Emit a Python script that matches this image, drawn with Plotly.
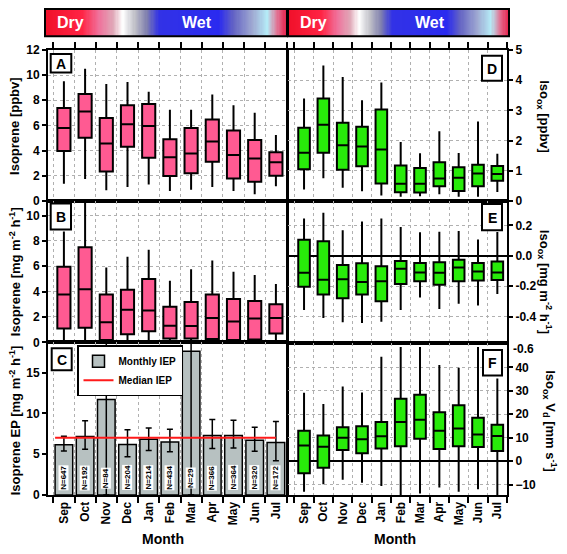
import plotly.graph_objects as go

months = ["Sep", "Oct", "Nov", "Dec", "Jan", "Feb", "Mar", "Apr", "May", "Jun", "Jul"]
idx = list(range(len(months)))

# Panel A: Isoprene [ppbv]
A_low = [1.37, 1.75, 0.85, 1.10, 1.30, 0.80, 0.90, 1.10, 0.80, 0.54, 1.16]
A_q1 = [3.97, 5.03, 2.35, 4.30, 3.43, 1.99, 2.20, 3.12, 1.78, 1.52, 2.00]
A_med = [5.80, 7.10, 4.57, 6.10, 5.96, 3.48, 3.77, 4.72, 3.66, 3.38, 3.07]
A_q3 = [7.38, 8.50, 6.60, 7.60, 7.70, 4.90, 5.80, 6.48, 5.60, 4.85, 3.87]
A_high = [9.50, 10.50, 9.30, 9.45, 8.67, 7.25, 7.25, 8.46, 7.60, 7.00, 5.24]

# Panel B: Isoprene flux [mg m-2 h-1]
B_low = [0.0, 0.0, 0.0, 0.0, 0.0, 0.0, 0.0, 0.0, 0.0, 0.0, 0.0]
B_q1 = [1.08, 1.15, 0.18, 0.64, 0.87, 0.30, 0.30, 0.26, 0.18, 0.23, 0.70]
B_med = [3.77, 4.18, 1.59, 2.56, 2.50, 1.31, 1.28, 1.92, 1.64, 1.87, 1.92]
B_q3 = [5.97, 7.49, 3.77, 4.15, 5.00, 2.80, 3.18, 3.77, 3.41, 3.26, 3.00]
B_high = [8.74, 11.6, 5.90, 6.74, 7.30, 4.85, 5.77, 6.46, 5.56, 5.30, 4.60]

# Panel C: Isoprene EP
C_val = [6.16, 7.16, 11.7, 6.20, 6.84, 6.50, 17.6, 7.30, 7.30, 6.70, 6.44]
C_hi = [7.20, 9.10, 30.0, 8.00, 8.20, 8.05, 30.0, 9.25, 9.15, 8.30, 9.00]
C_lo = [5.40, 5.60, 0.00, 4.70, 5.45, 5.30, 0.00, 5.70, 5.75, 5.35, 4.20]
C_N = [647, 192, 84, 204, 214, 434, 29, 366, 364, 320, 172]
median_IEP = 7.0

# Panel D: Iso_ox [ppbv]
D_low = [0.38, 0.75, 0.44, 0.32, 0.18, 0.14, 0.16, 0.22, 0.14, 0.14, 0.30]
D_q1 = [1.05, 1.60, 1.03, 1.15, 0.58, 0.29, 0.28, 0.49, 0.33, 0.49, 0.67]
D_med = [1.60, 2.52, 1.84, 1.80, 1.70, 0.57, 0.57, 0.74, 0.77, 0.91, 0.89]
D_q3 = [2.42, 3.39, 2.59, 2.46, 3.03, 1.17, 1.09, 1.28, 1.12, 1.20, 1.16]
D_high = [3.39, 4.48, 4.10, 3.33, 3.92, 1.95, 1.58, 2.31, 1.59, 2.63, 1.56]

# Panel E: Iso_ox flux [mg m-2 h-1]
E_low = [-0.357, -0.409, -0.437, -0.443, -0.434, -0.357, -0.275, -0.350, -0.316, -0.327, -0.252]
E_q1 = [-0.204, -0.254, -0.280, -0.254, -0.300, -0.185, -0.168, -0.190, -0.168, -0.163, -0.159]
E_med = [-0.112, -0.157, -0.155, -0.172, -0.168, -0.086, -0.110, -0.112, -0.077, -0.103, -0.110]
E_q3 = [0.105, 0.095, -0.060, -0.049, -0.069, -0.034, -0.047, -0.043, -0.026, -0.047, -0.037]
E_high = [0.245, 0.284, 0.168, 0.226, 0.245, 0.189, 0.155, 0.159, 0.163, 0.108, 0.157]

# Panel F: Iso_ox Vd [mm s-1]
F_low = [-13.1, -9.9, -8.0, -9.3, -10.6, -15.5, -13.8, -11.3, -13.1, -12.0, -15.5]
F_q1 = [-5.2, -2.8, 4.7, 3.3, 5.4, 6.3, 9.5, 5.2, 6.3, 6.0, 4.3]
F_med = [6.7, 6.1, 10.0, 9.3, 10.6, 16.7, 17.6, 13.0, 13.9, 11.3, 10.7]
F_q3 = [13.0, 10.9, 14.5, 14.9, 16.7, 26.6, 28.3, 20.9, 23.8, 18.5, 15.5]
F_high = [29.2, 24.4, 31.8, 29.3, 44.5, 48.7, 48.7, 41.0, 39.9, 48.7, 35.3]

W, H = 567, 554
def fx(p):
    return p / W
def fy(p):
    return 1 - p / H

PINK = "#FF5A92"
GREEN = "#28EA0A"
GRAY = "#B7C1C1"
FONT = "Liberation Sans, Arial, sans-serif"
GRIDC = "#B0B0B0"

fig = go.Figure()

def add_box(xa, ya, low, q1, med, q3, high, color, width):
    fig.add_trace(go.Box(
        x=idx, lowerfence=low, q1=q1, median=med, q3=q3, upperfence=high,
        fillcolor=color, line=dict(color="black", width=2), whiskerwidth=0,
        width=width, boxpoints=False, showlegend=False, hoverinfo="skip",
        xaxis=xa, yaxis=ya))

add_box("x", "y", A_low, A_q1, A_med, A_q3, A_high, PINK, 0.62)
add_box("x2", "y2", B_low, B_q1, B_med, B_q3, B_high, PINK, 0.62)
add_box("x4", "y4", D_low, D_q1, D_med, D_q3, D_high, GREEN, 0.6)
add_box("x5", "y5", E_low, E_q1, E_med, E_q3, E_high, GREEN, 0.6)
add_box("x6", "y6", F_low, F_q1, F_med, F_q3, F_high, GREEN, 0.6)

bar_w = 0.83
fig.add_trace(go.Bar(
    x=idx, y=C_val, width=bar_w, name="Monthly IEP",
    marker=dict(color=GRAY, line=dict(color="black", width=1.5)),
    error_y=dict(type="data", symmetric=False,
                 array=[h - v for h, v in zip(C_hi, C_val)],
                 arrayminus=[v - l for l, v in zip(C_lo, C_val)],
                 color="black", thickness=1.5, width=3),
    xaxis="x3", yaxis="y3", showlegend=True))
fig.add_trace(go.Scatter(
    x=[idx[0] - bar_w / 2, idx[-1]], y=[median_IEP, median_IEP], mode="lines",
    name="Median IEP", line=dict(color="#FF1A1A", width=2),
    xaxis="x3", yaxis="y3", showlegend=True))

# Season gradient bars
cs = [[0, "#F0102A"], [0.15, "#FF2444"], [0.22, "#F0709A"], [0.28, "#E0A8B8"],
      [0.32, "#FFFFFF"], [0.37, "#C0C0C8"], [0.42, "#8080AE"], [0.47, "#3232E6"],
      [0.72, "#2A2AF0"], [0.78, "#6464C4"], [0.86, "#A0AAD2"], [0.92, "#B4EAF6"],
      [0.96, "#E07898"], [1, "#E8204A"]]
grad = list(range(200))
for xa, ya in (("x7", "y7"), ("x8", "y8")):
    fig.add_trace(go.Heatmap(z=[grad], x=grad, colorscale=cs, showscale=False,
                             hoverinfo="skip", xaxis=xa, yaxis=ya))

edges = [i - 0.5 for i in range(len(months) + 1)]
tickfont = dict(family=FONT, size=12, color="black", weight="bold")

def xaxis_cfg(dom, rng, anchor, side="bottom", labels=False, ticks=True):
    return dict(domain=dom, range=rng, anchor=anchor, side=side,
                tickmode="array", tickvals=idx, ticktext=months,
                showticklabels=labels, ticks="", tickangle=-90, tickfont=tickfont,
                showgrid=False, zeroline=False,
                showline=True, linewidth=2, linecolor="black", mirror=True,
                minor=dict(tickmode="array", tickvals=edges,
                           ticks="outside" if ticks else "", ticklen=6, tickwidth=1.5,
                           tickcolor="black", showgrid=True, gridcolor=GRIDC,
                           griddash="dot", gridwidth=1))

def yaxis_cfg(dom, rng, anchor, tickvals, ticktext=None, side="left", grid=True, zeroline=False):
    d = dict(domain=dom, range=rng, anchor=anchor, side=side,
             tickmode="array", tickvals=tickvals,
             ticks="outside", ticklen=4, tickwidth=1.5, tickcolor="black",
             tickfont=tickfont, showgrid=grid, gridcolor=GRIDC, griddash="dot", gridwidth=1,
             zeroline=zeroline, zerolinecolor="black", zerolinewidth=1.5,
             showline=True, linewidth=2, linecolor="black", mirror=True)
    if ticktext is not None:
        d["ticktext"] = ticktext
    return d

LX = [fx(48), fx(286.5)]
RX = [fx(288), fx(507)]
LR = [-0.75, 10.5]
RR = [-0.83, 10.5]

layout = dict(
    width=W, height=H, margin=dict(l=0, r=0, t=0, b=0),
    paper_bgcolor="white", plot_bgcolor="white",
    font=dict(family=FONT, color="black"),
    xaxis=xaxis_cfg(LX, LR, "y", side="top"),
    xaxis2=xaxis_cfg(LX, LR, "y2", ticks=False),
    xaxis3=xaxis_cfg(LX, LR, "y3", labels=True),
    xaxis4=xaxis_cfg(RX, RR, "y4", side="top"),
    xaxis5=xaxis_cfg(RX, RR, "y5", ticks=False),
    xaxis6=xaxis_cfg(RX, RR, "y6", labels=True),
    yaxis=yaxis_cfg([fy(199), fy(44)], [0, 12], "x", [0, 2, 4, 6, 8, 10, 12]),
    yaxis2=yaxis_cfg([fy(344), fy(199)], [0, 11.15], "x2", [0, 2, 4, 6, 8, 10]),
    yaxis3=yaxis_cfg([fy(500.7), fy(344)], [0, 18.7], "x3", [0, 5, 10, 15], grid=False),
    yaxis4=yaxis_cfg([fy(199), fy(44)], [0, 5], "x4", [0, 1, 2, 3, 4, 5], side="right"),
    yaxis5=yaxis_cfg([fy(345), fy(199)], [-0.576, 0.361], "x5", [-0.4, -0.2, 0, 0.2],
                     ["-0.4", "-0.2", "0.0", "0.2"], side="right", zeroline=True),
    yaxis6=yaxis_cfg([fy(500.7), fy(345)], [-14.5, 50.3], "x6", [-10, 0, 10, 20, 30, 40],
                     side="right", zeroline=True),
    xaxis7=dict(domain=[fx(45), fx(287)], anchor="y7", visible=False, range=[-0.5, 199.5]),
    yaxis7=dict(domain=[fy(30), fy(2)], anchor="x7", visible=False),
    xaxis8=dict(domain=[fx(288), fx(509)], anchor="y8", visible=False, range=[-0.5, 199.5]),
    yaxis8=dict(domain=[fy(30), fy(2)], anchor="x8", visible=False),
    legend=dict(x=fx(77), y=fy(347), xanchor="left", yanchor="top",
                bgcolor="white", bordercolor="black", borderwidth=1.5,
                font=dict(family=FONT, size=10, color="black", weight="bold"),
                itemwidth=30, tracegroupgap=0),
    bargap=0.1,
)
fig.update_layout(**layout)

shapes = []
annotations = []

def pann(text, x, y, font, angle=0, xanchor="center", yanchor="middle"):
    annotations.append(dict(text=text, x=fx(x), y=fy(y), xref="paper", yref="paper",
                            xanchor=xanchor, yanchor=yanchor, showarrow=False,
                            textangle=angle, font=font))

# gradient borders
for x0, x1 in ((45, 287), (288, 509)):
    shapes.append(dict(type="rect", xref="paper", yref="paper", x0=fx(x0), x1=fx(x1),
                       y0=fy(30), y1=fy(2), line=dict(color="black", width=2)))
for txt, x in (("Dry", 70), ("Wet", 197), ("Dry", 313), ("Wet", 430)):
    pann(txt, x, 16, dict(family=FONT, size=16, color="white", weight="bold"))

# panel letter boxes
boxes = [("A", 50.7, 71.3, 48.3, 67.3), ("B", 50.7, 71.0, 201.7, 228.3),
         ("C", 51.7, 71.7, 350, 372.7), ("D", 482, 502, 50, 75.7),
         ("E", 482, 502, 202, 229), ("F", 483, 502, 352, 378)]
for t, x0, x1, y0, y1 in boxes:
    shapes.append(dict(type="rect", xref="paper", yref="paper", x0=fx(x0), x1=fx(x1),
                       y0=fy(y1), y1=fy(y0), line=dict(color="black", width=2),
                       fillcolor="white", layer="above"))
    pann(t, (x0 + x1) / 2, (y0 + y1) / 2 + 0.5,
         dict(family=FONT, size=14, color="black", weight="bold"))

# N labels
for i, n in zip(idx, C_N):
    annotations.append(dict(text="N=%d" % n, x=i, y=2.1, xref="x3", yref="y3",
                            xanchor="center", yanchor="middle",
                            showarrow=False, textangle=-90, bgcolor="white", borderpad=0,
                            font=dict(family=FONT, size=8, color="black", weight="bold")))

# axis titles
tf = dict(family=FONT, size=13, color="black", weight="bold")
left_titles = [("Isoprene [ppbv]", 15, 122),
               ("Isoprene [mg m<sup>-2</sup> h<sup>-1</sup>]", 15, 272),
               ("Isoprene EP [mg m<sup>-2</sup> h<sup>-1</sup>]", 15, 424)]
for t, x, y in left_titles:
    pann(t, x, y, tf, angle=-90)
right_titles = [("Iso<sub>ox</sub> [ppbv]", 544, 112),
                ("Iso<sub>ox</sub> [mg m<sup>-2</sup> h<sup>-1</sup>]", 545, 282),
                ("Iso<sub>ox</sub> V<sub>d</sub> [mm s<sup>-1</sup>]", 550, 425)]
for t, x, y in right_titles:
    pann(t, x, y, tf, angle=90)
for x in (163, 395):
    pann("Month", x, 546, dict(family=FONT, size=14, color="black", weight="bold"))
# stray E-axis label below E panel
pann("-0.6", 511, 351, tickfont, xanchor="left")

fig.update_layout(shapes=shapes, annotations=annotations)
fig.write_html("out.html", config={"displayModeBar": False},
               post_script="document.body.style.margin='0';document.body.style.overflow='hidden';")
